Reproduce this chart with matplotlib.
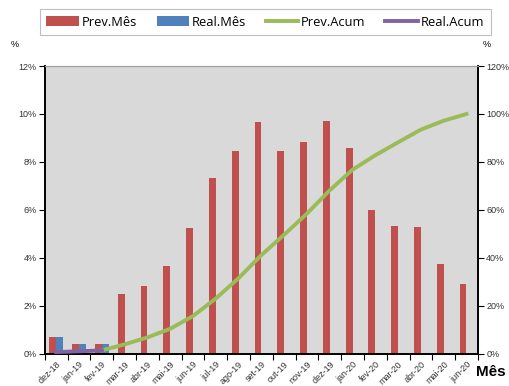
import numpy as np
import matplotlib.pyplot as plt
from matplotlib.ticker import FuncFormatter

plt.rcParams['font.family'] = ['Liberation Sans', 'DejaVu Sans']

meses = ['dez-18', 'jan-19', 'fev-19', 'mar-19', 'abr-19', 'mai-19', 'jun-19',
         'jul-19', 'ago-19', 'set-19', 'out-19', 'nov-19', 'dez-19', 'jan-20',
         'fev-20', 'mar-20', 'abr-20', 'mai-20', 'jun-20']
prev_mes = [0.7, 0.4, 0.4, 2.5, 2.85, 3.65, 5.25, 7.35, 8.45, 9.65, 8.45,
            8.85, 9.7, 8.6, 6.0, 5.35, 5.3, 3.75, 2.9]
real_mes = [0.7, 0.4, 0.4]
prev_acum = [np.nan, np.nan, 1.5, 4.0, 6.9, 10.5, 15.8, 23.1, 31.6, 41.2,
             49.7, 58.5, 68.2, 76.8, 82.8, 88.2, 93.5, 97.2, 100.0]
real_acum = [0.8, 1.1, 1.5]

c_red = '#C0504D'
c_blue = '#4F81BD'
c_green = '#9BBB59'
c_purple = '#8064A2'

fig = plt.figure(figsize=(5.1, 3.86), dpi=100)
ax = fig.add_axes([0.088, 0.083, 0.849, 0.746])
ax.set_facecolor('#D9D9D9')

x = np.arange(len(meses))
w = 0.3
ax.bar(x - w / 2, prev_mes, width=w, color=c_red, label='Prev.Mês', zorder=2)
ax.bar(np.arange(len(real_mes)) + w / 2, real_mes, width=w, color=c_blue,
       label='Real.Mês', zorder=2)

ax.set_xlim(-0.5, len(meses) - 0.5)
ax.set_ylim(0, 12)
ax.set_yticks(np.arange(0, 13, 2))
ax.yaxis.set_major_formatter(FuncFormatter(lambda v, p: '%d%%' % v))
ax.set_xticks(x)
ax.set_xticklabels(meses, rotation=45, ha='right', rotation_mode='anchor')
ax.set_xticks(np.arange(-0.5, len(meses)), minor=True)
ax.tick_params(axis='x', which='major', length=0, pad=4, labelsize=6.5,
               labelcolor='#333333')
ax.tick_params(axis='x', which='minor', length=4, width=0.8, direction='out')
ax.tick_params(axis='y', length=4, width=0.8, pad=2, labelsize=6.5,
               labelcolor='#333333')

ax2 = ax.twinx()
ax2.plot(x, prev_acum, color=c_green, lw=2.8, label='Prev.Acum', zorder=3)
ax2.plot(np.arange(len(real_acum)), real_acum, color=c_purple, lw=2.8,
         label='Real.Acum', zorder=3)
ax2.set_ylim(0, 120)
ax2.set_yticks(np.arange(0, 121, 20))
ax2.yaxis.set_major_formatter(FuncFormatter(lambda v, p: '%d%%' % v))
ax2.tick_params(axis='y', length=4, width=0.8, pad=2, labelsize=6.5,
                labelcolor='#333333')

for a in (ax, ax2):
    a.spines['top'].set_color('#A0A0A0')
    a.spines['top'].set_linewidth(0.8)
    for s in ('left', 'right', 'bottom'):
        a.spines[s].set_linewidth(1.2)
        a.spines[s].set_color('black')

h1, l1 = ax.get_legend_handles_labels()
h2, l2 = ax2.get_legend_handles_labels()
leg = fig.legend(h1 + h2, l1 + l2, loc='center', ncol=4,
                 bbox_to_anchor=(0.52, 0.943), frameon=True,
                 prop={'family': 'Open Sans', 'size': 9},
                 fancybox=False, edgecolor='#B0B0B0', handlelength=2.6,
                 handleheight=0.8, columnspacing=1.6, handletextpad=0.2,
                 borderpad=0.55, borderaxespad=0)
leg.get_frame().set_linewidth(0.8)
leg._legend_box.align = 'center'
for t in leg.get_texts():
    t.set_fontsize(9.3)

fig.text(0.028, 0.885, '%', fontsize=6.5, ha='center', va='center')
fig.text(0.955, 0.885, '%', fontsize=6.5, ha='center', va='center')
fig.text(0.962, 0.035, 'Mês', fontsize=11, fontweight='bold', ha='center',
         va='center')

fig.savefig('out.png', dpi=100)
